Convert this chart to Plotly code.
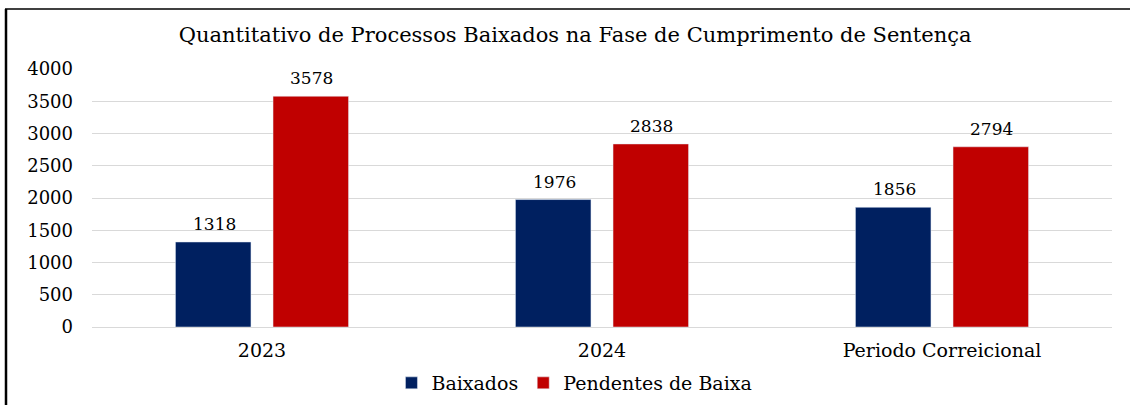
import plotly.graph_objects as go

categories = ["2023", "2024", "Periodo Correicional"]
baixados = [1318, 1976, 1856]
pendentes = [3578, 2838, 2794]
series_names = ["Baixados", "Pendentes de Baixa"]
colors = ["#002060", "#C00000"]
y_ticks = [0, 500, 1000, 1500, 2000, 2500, 3000, 3500, 4000]

FONT = "DejaVu Serif"

W, H = 1130, 405
ml, mr, mt, mb = 92, 18, 69, 78
pw, ph = W - ml - mr, H - mt - mb

bargap, bargroupgap = 0.426, 0.226
slot = pw / len(categories) * (1 - bargap) / 2

def px_x(x):
    return (x - ml) / pw

def px_y(y):
    return (H - mb - y) / ph

fig = go.Figure()
annotations = []
for i, (name, vals, col) in enumerate(zip(series_names, [baixados, pendentes], colors)):
    fig.add_trace(go.Bar(name=name, x=categories, y=vals, marker_color=col))
    shift = (i - 0.5) * slot
    for j, v in enumerate(vals):
        annotations.append(dict(
            x=j, y=v, xref="x", yref="y", text=str(v), showarrow=False,
            xanchor="center", yanchor="bottom", xshift=shift + 1, yshift=6,
            font=dict(family=FONT, size=17, color="#000000")))

fig.update_layout(
    width=W, height=H,
    margin=dict(l=ml, r=mr, t=mt, b=mb, autoexpand=False),
    paper_bgcolor="white", plot_bgcolor="white",
    barmode="group", bargap=bargap, bargroupgap=bargroupgap,
    title=dict(text="Quantitativo de Processos Baixados na Fase de Cumprimento de Sentença",
               x=0.509, xanchor="center", y=1 - 35 / H, yanchor="middle",
               font=dict(family=FONT, size=21, color="#000000")),
    font=dict(family=FONT, color="#000000"),
    xaxis=dict(type="category", categoryorder="array", categoryarray=categories,
               range=[-0.5, len(categories) - 0.5],
               tickfont=dict(family=FONT, size=19, color="#000000"),
               showline=False, ticks="", ticklabelstandoff=10),
    yaxis=dict(range=[0, 4000], tickvals=y_ticks,
               tickfont=dict(family=FONT, size=18, color="#000000"),
               gridcolor="#d9d9d9", gridwidth=1, zeroline=True,
               zerolinecolor="#d9d9d9", zerolinewidth=1,
               showline=False, ticks="", ticklabelstandoff=18),
    legend=dict(orientation="h", x=0.473, xanchor="center",
                y=px_y(383), yanchor="middle",
                font=dict(family=FONT, size=19, color="#000000"),
                itemwidth=30, traceorder="normal"),
    annotations=annotations,
    shapes=[
        dict(type="line", xref="paper", yref="paper",
             x0=px_x(5), x1=px_x(1130), y0=px_y(9), y1=px_y(9),
             line=dict(color="#000000", width=1.5)),
        dict(type="line", xref="paper", yref="paper",
             x0=px_x(6), x1=px_x(6), y0=px_y(9), y1=px_y(405),
             line=dict(color="#000000", width=2.5)),
    ],
)

fig.write_html("out.html", config={"displayModeBar": False},
               post_script="document.body.style.margin='0px';")
